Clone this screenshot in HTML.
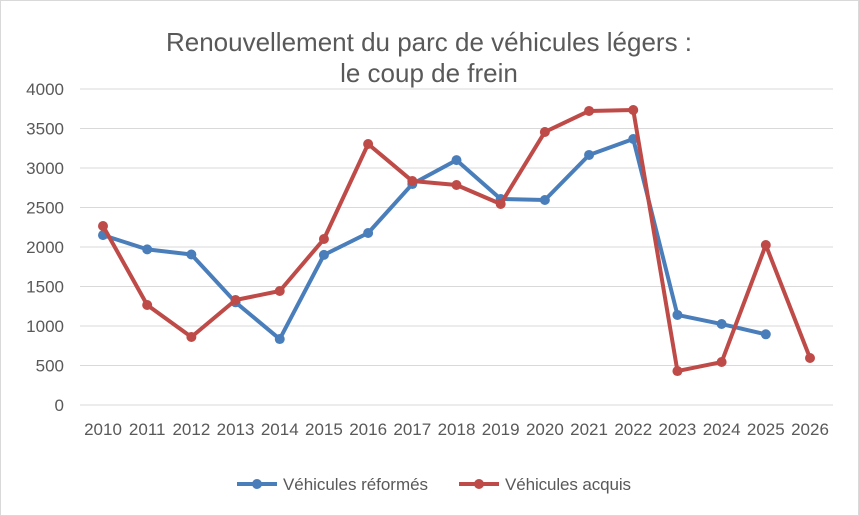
<!DOCTYPE html>
<html><head><meta charset="utf-8"><style>
body{margin:0;background:#fff;}
svg{display:block;font-family:"Liberation Sans",sans-serif;}
</style></head><body>
<svg id="chart" width="859" height="516">
<rect x="0.5" y="0.5" width="858" height="515" fill="#fff" stroke="#d9d9d9"/>
<text x="429" y="51" text-anchor="middle" font-size="26" fill="#595959">Renouvellement du parc de véhicules légers :</text>
<text x="429" y="82" text-anchor="middle" font-size="26" fill="#595959">le coup de frein</text>
<g id="grid"></g><g id="series"></g>
<g>
<line x1="237" y1="484" x2="277" y2="484" stroke="#4a7ebb" stroke-width="4"/>
<circle cx="257" cy="484" r="5" fill="#4a7ebb"/>
<text x="283" y="490" font-size="17" textLength="145" fill="#595959">Véhicules réformés</text>
<line x1="459" y1="484" x2="499" y2="484" stroke="#be4b48" stroke-width="4"/>
<circle cx="479" cy="484" r="5" fill="#be4b48"/>
<text x="505" y="490" font-size="17" textLength="126" fill="#595959">Véhicules acquis</text>
</g>
</svg>
<script>
const categories=["2010","2011","2012","2013","2014","2015","2016","2017","2018","2019","2020","2021","2022","2023","2024","2025","2026"];
const reformes=[2150,1970,1905,1300,835,1900,2177,2797,3100,2608,2595,3165,3367,1140,1025,895];
const acquis=[2266,1266,861,1329,1443,2101,3304,2835,2785,2544,3456,3722,3734,430,544,2025,595];
const yTicks=[0,500,1000,1500,2000,2500,3000,3500,4000];
const NS="http://www.w3.org/2000/svg";
const x0=103,x1=810,yB=405,yT=89,yMax=4000;
function xs(i){return x0+(x1-x0)*i/(categories.length-1);}
function ys(v){return yB-(yB-yT)*v/yMax;}
function mk(tag,a,p){const e=document.createElementNS(NS,tag);for(const k in a)e.setAttribute(k,a[k]);p.appendChild(e);return e;}
const g=document.getElementById('grid');
yTicks.forEach(t=>{
 const l=mk('line',{x1:80,x2:833,y1:ys(t),y2:ys(t),stroke:'#d9d9d9','stroke-width':1},g);
 
 
 const tx=mk('text',{x:64,y:ys(t)+6,'text-anchor':'end','font-size':17,fill:'#595959'},g);tx.textContent=t;
 
 
});
categories.forEach((c,i)=>{
 const tx=mk('text',{x:xs(i),y:435,'text-anchor':'middle','font-size':17,fill:'#595959'},g);tx.textContent=c;
 
 
});
const s=document.getElementById('series');
function draw(vals,color,name){
 const pl=mk('polyline',{points:vals.map((v,i)=>xs(i)+','+ys(v)).join(' '),fill:'none',stroke:color,'stroke-width':4,'stroke-linejoin':'round'},s);
 
 
 vals.forEach((v,i)=>{
  const c=mk('circle',{cx:xs(i),cy:ys(v),r:5,fill:color},s);
  
  
 });
}
draw(reformes,'#4a7ebb','reformes');
draw(acquis,'#be4b48','acquis');
</script>
</body></html>
